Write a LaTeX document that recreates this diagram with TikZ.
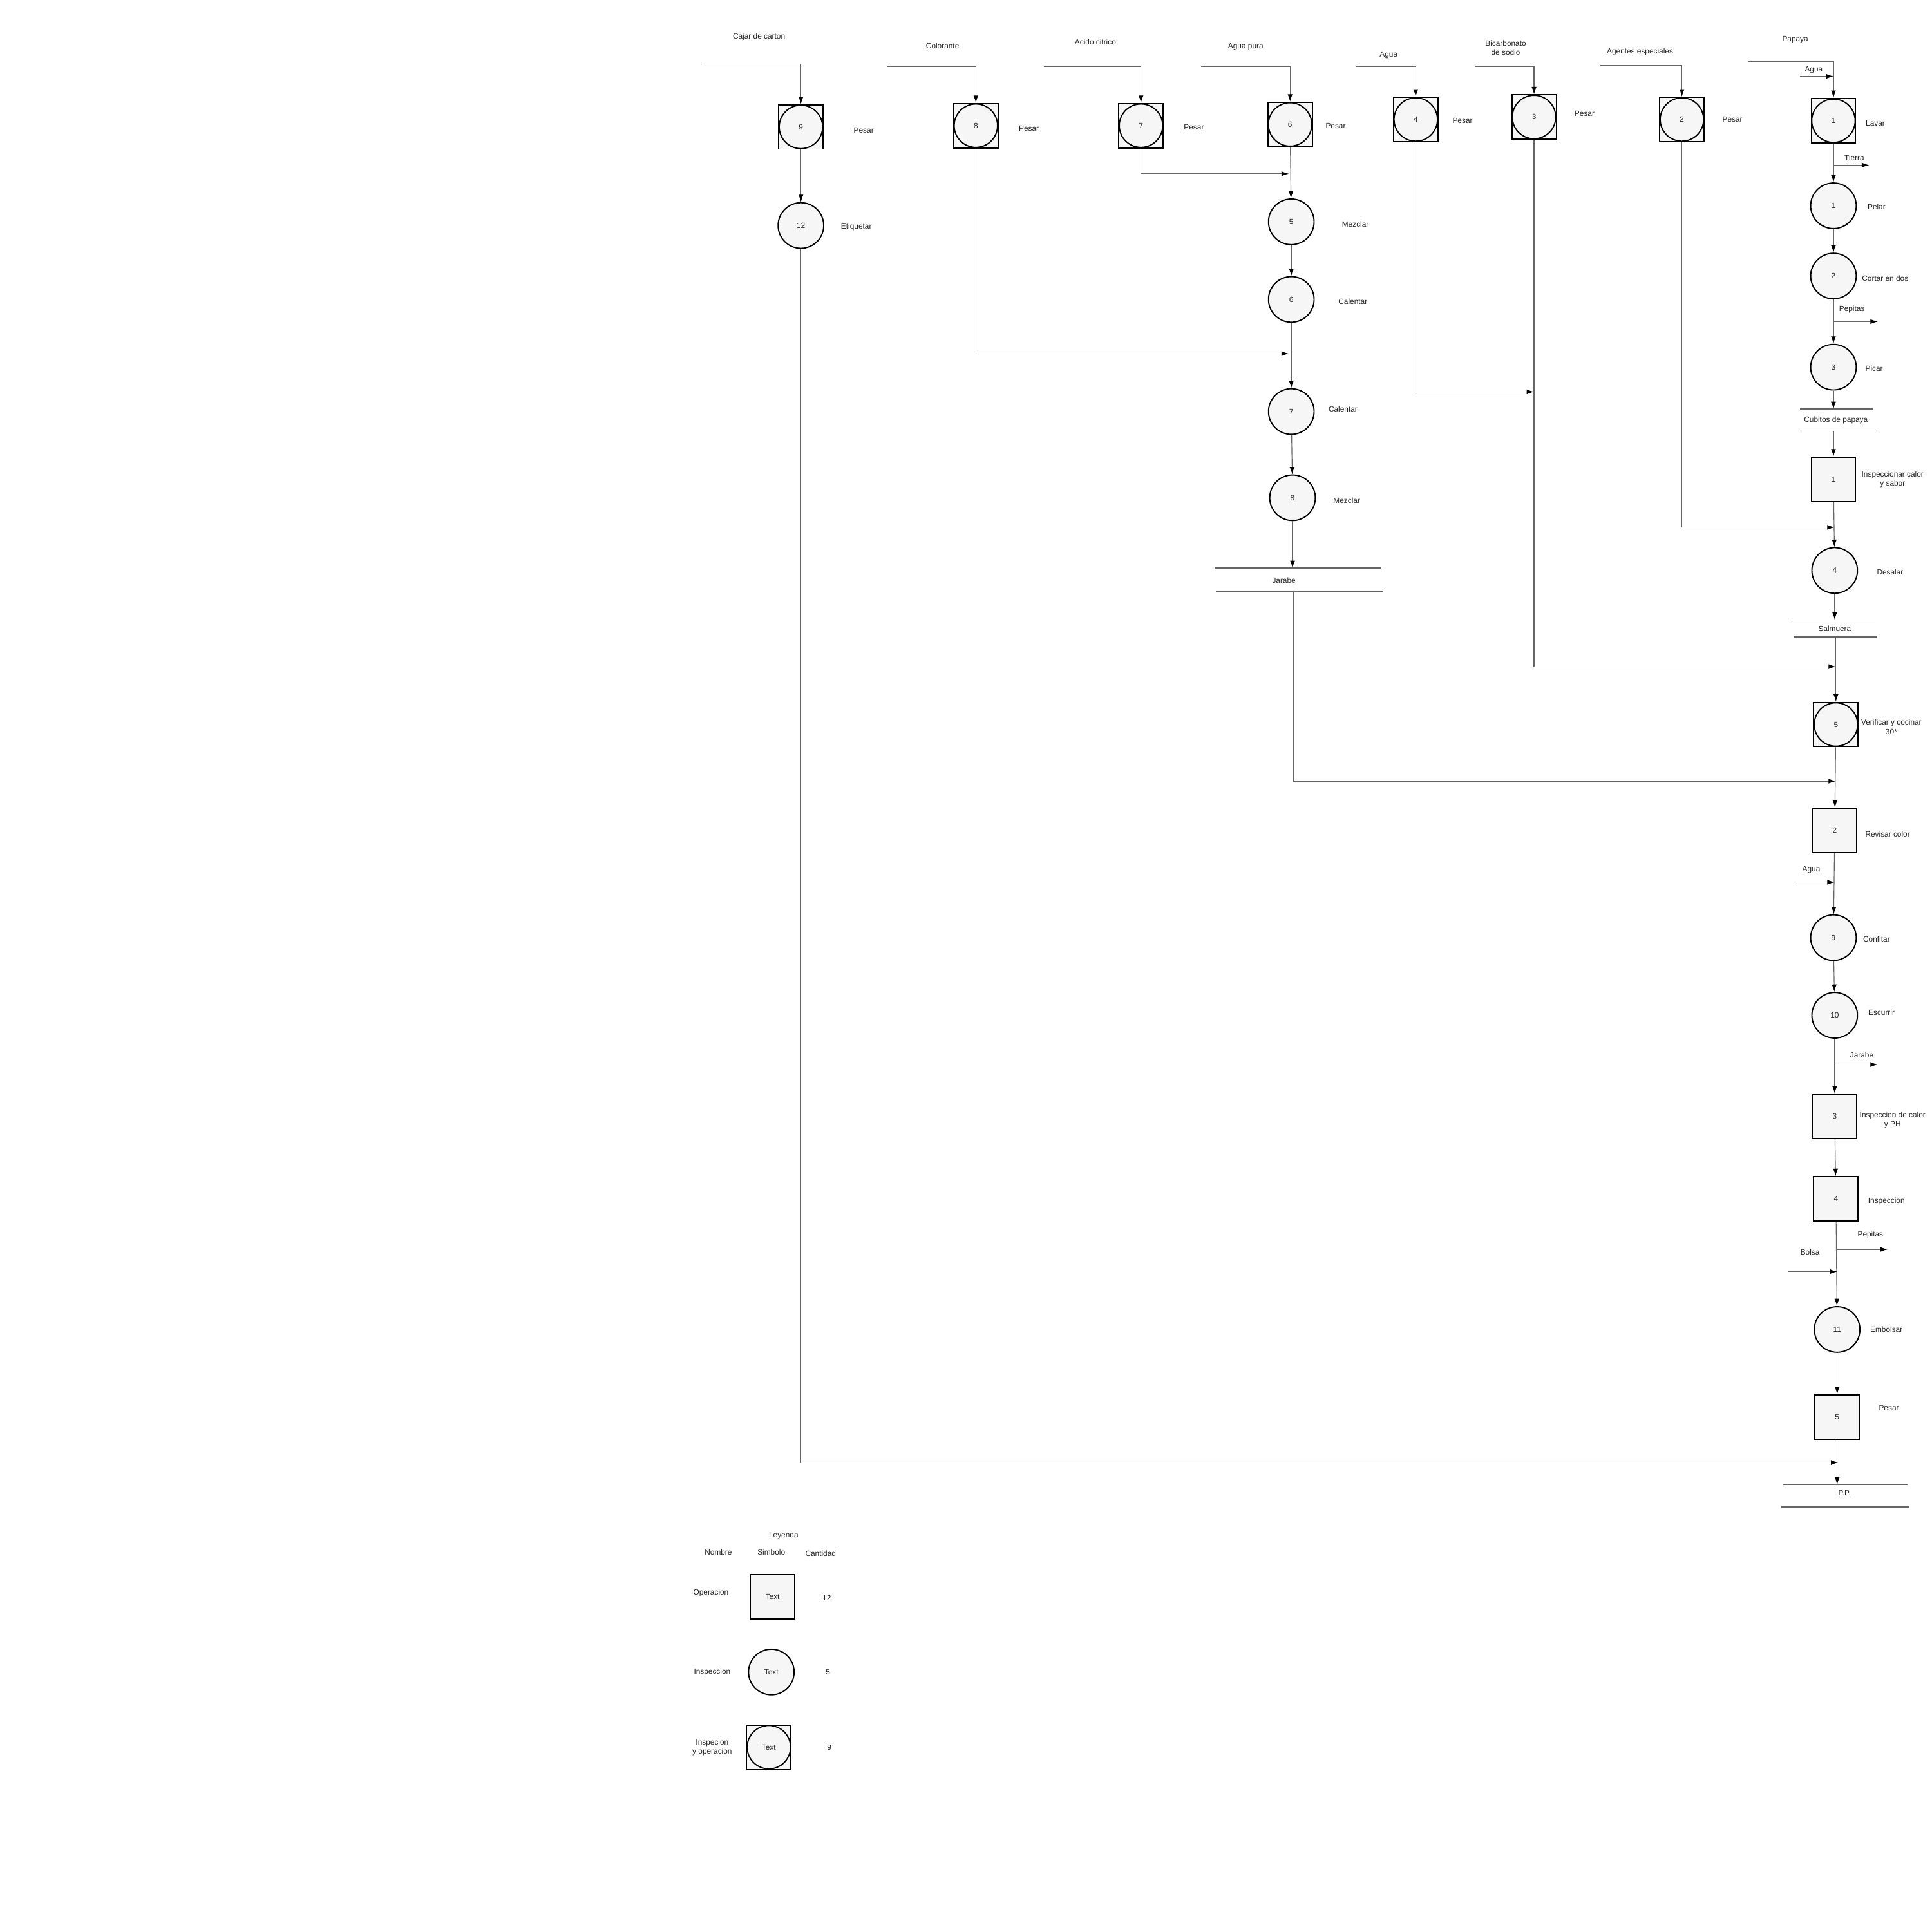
\documentclass[tikz,border=0pt]{standalone}
\usepackage{fontspec}
\setmainfont{Liberation Sans}
\usetikzlibrary{arrows.meta}
\begin{document}
\begin{tikzpicture}[x=1pt,y=-1pt,font=\fontsize{6.2}{7.4}\selectfont,
  conn/.style={draw=black!60, line width=0.6pt},
  arr/.style={conn, -{Latex[length=6pt,width=4pt,color=black]}},
  opnode/.style={circle, draw=black, line width=1pt, fill=gray!7, minimum size=37pt, inner sep=0pt, text=black!85},
  sqnode/.style={rectangle, draw=black, line width=1pt, fill=gray!7, minimum size=36pt, inner sep=0pt, text=black!85},
  cbnode/.style={sqnode, path picture={\draw[line width=1pt] (path picture bounding box.center) circle (17.6pt);}},
  lbl/.style={inner sep=0pt, text=black!85, align=center},
  stor/.style={draw=black!60, line width=0.8pt}]
\useasboundingbox (0,0) rectangle (1568,1568);
\fill[white] (0,0) rectangle (1568,1568);

% ---------- nodes: combined operations ----------
\node[cbnode] (c9) at (650,103) {9};
\node[cbnode] (c8) at (792,102) {8};
\node[cbnode] (c7) at (926,102) {7};
\node[cbnode] (c6) at (1047,101) {6};
\node[cbnode] (c4) at (1149,97) {4};
\node[cbnode] (c3) at (1245,95) {3};
\node[cbnode] (c2) at (1365,97) {2};
\node[cbnode] (c1) at (1488,98) {1};
\node[cbnode] (c5) at (1490,588) {5};

% ---------- operations (circles) ----------
\node[opnode] (o12) at (650,183) {12};
\node[opnode] (o5) at (1048,180) {5};
\node[opnode] (o6) at (1048,243) {6};
\node[opnode] (o7) at (1048,334) {7};
\node[opnode] (o8) at (1049,404) {8};
\node[opnode] (o1) at (1488,167) {1};
\node[opnode] (o2) at (1488,224) {2};
\node[opnode] (o3) at (1488,298) {3};
\node[opnode] (o4) at (1489,463) {4};
\node[opnode] (o9) at (1488,761) {9};
\node[opnode] (o10) at (1489,824) {10};
\node[opnode] (o11) at (1491,1079) {11};

% ---------- inspections (squares) ----------
\node[sqnode] (s1) at (1488,389) {1};
\node[sqnode] (s2) at (1489,674) {2};
\node[sqnode] (s3) at (1489,906) {3};
\node[sqnode] (s4) at (1490,973) {4};
\node[sqnode] (s5) at (1491,1150) {5};

% ---------- storages ----------
\node[lbl] (jar) at (1042,471) {Jarabe};
\draw[stor] (986,461) -- (1121,461);
\draw[stor] (987,480) -- (1122,480);
\node[lbl] (cub) at (1490,341) {Cubitos de papaya};
\draw[stor] (1461,332) -- (1520,332);
\draw[stor] (1462,350) -- (1523,350);
\node[lbl] (sal) at (1489,510) {Salmuera};
\draw[stor] (1454,503) -- (1522,503);
\draw[stor] (1456,517) -- (1523,517);
\node[lbl] (pp) at (1497,1212) {P.P.};
\draw[stor] (1447,1205) -- (1548,1205);
\draw[stor] (1445,1223) -- (1549,1223);

% ---------- labels ----------
\node[lbl] (t1) at (616,30) {Cajar de carton};
\node[lbl] (t2) at (765,37) {Colorante};
\node[lbl] (t3) at (889,34) {Acido citrico};
\node[lbl] (t4) at (1011,38) {Agua pura};
\node[lbl] (t5) at (1127,45) {Agua};
\node[lbl] (t6) at (1222,39) {Bicarbonato\\de sodio};
\node[lbl] (t7) at (1331,42) {Agentes especiales};
\node[lbl] (t8) at (1457,32) {Papaya};
\node[lbl] (t9) at (1472,57) {Agua};

\node[lbl] (p9) at (701,106) {Pesar};
\node[lbl] (p8) at (835,104) {Pesar};
\node[lbl] (p7) at (969,103) {Pesar};
\node[lbl] (p6) at (1084,102) {Pesar};
\node[lbl] (p4) at (1187,98) {Pesar};
\node[lbl] (p3) at (1286,92) {Pesar};
\node[lbl] (p2) at (1406,97) {Pesar};
\node[lbl] (p1) at (1522,100) {Lavar};
\node[lbl] (e12) at (695,184) {Etiquetar};
\node[lbl] (m5) at (1100,182) {Mezclar};
\node[lbl] (m6) at (1098,245) {Calentar};
\node[lbl] (m7) at (1090,332) {Calentar};
\node[lbl] (m8) at (1093,406) {Mezclar};

\node[lbl] (tie) at (1505,128) {Tierra};
\node[lbl] (pel) at (1523,168) {Pelar};
\node[lbl] (cor) at (1530,226) {Cortar en dos};
\node[lbl] (pep1) at (1503,251) {Pepitas};
\node[lbl] (pic) at (1521,299) {Picar};
\node[lbl] (ins1) at (1536,389) {Inspeccionar calor\\y sabor};
\node[lbl] (des) at (1534,464) {Desalar};
\node[lbl] (ver) at (1535,590) {Verificar y cocinar\\30*};
\node[lbl] (rev) at (1532,677) {Revisar color};
\node[lbl] (agu2) at (1470,706) {Agua};
\node[lbl] (con) at (1523,762) {Confitar};
\node[lbl] (esc) at (1527,822) {Escurrir};
\node[lbl] (jar2) at (1511,856) {Jarabe};
\node[lbl] (ins3) at (1536,909) {Inspeccion de calor\\y PH};
\node[lbl] (ins4) at (1531,975) {Inspeccion};
\node[lbl] (pep2) at (1518,1002) {Pepitas};
\node[lbl] (bol) at (1469,1016) {Bolsa};
\node[lbl] (emb) at (1531,1079) {Embolsar};
\node[lbl] (pes5) at (1533,1143) {Pesar};

% ---------- coordinates ----------
\coordinate (a9) at (570,52);
\coordinate (a8) at (720,54);
\coordinate (a7) at (847,54);
\coordinate (a6) at (975,54);
\coordinate (a4) at (1100,54);
\coordinate (a3) at (1197,54);
\coordinate (a2) at (1299,53);
\coordinate (a1) at (1419,50);
\coordinate (aguaS) at (1461,62);
\coordinate (aguaE) at (1488,62);
\coordinate (tieS) at (1488,134);
\coordinate (tieE) at (1517,134);
\coordinate (pepS) at (1488,261);
\coordinate (pepE) at (1524,261);
\coordinate (cubT) at (1488,332);
\coordinate (cubB) at (1488,350);
\coordinate (salT) at (1489,503);
\coordinate (salB) at (1490,517);
\coordinate (jarT) at (1049,461);
\coordinate (jarB) at (1050,480);
\coordinate (j7) at (1046,141);
\coordinate (j8) at (1046,287);
\coordinate (j4) at (1245,318);
\coordinate (j2) at (1489,428);
\coordinate (j3) at (1490,541);
\coordinate (jj) at (1490,634);
\coordinate (ag2S) at (1457,716);
\coordinate (ag2E) at (1489,716);
\coordinate (jaS) at (1489,864);
\coordinate (jaE) at (1524,864);
\coordinate (pe2S) at (1491,1014);
\coordinate (pe2E) at (1532,1014);
\coordinate (boS) at (1451,1032);
\coordinate (boE) at (1491,1032);
\coordinate (jb) at (1492,1187);
\coordinate (ppT) at (1491,1205);

% ---------- connectors ----------
\draw[arr] (a9) -| (c9);
\draw[arr] (a8) -| (c8);
\draw[arr] (a7) -| (c7);
\draw[arr] (a6) -| (c6);
\draw[arr] (a4) -| (c4);
\draw[arr] (a3) -| (c3);
\draw[arr] (a2) -| (c2);
\draw[arr] (a1) -| (c1);
\draw[arr] (aguaS) -- (aguaE);

\draw[arr] (c9) -- (o12);
\draw[arr] (o12) |- (jb);
\draw[arr] (c8) |- (j8);
\draw[arr] (c7) |- (j7);
\draw[arr] (c6) -- (o5);
\draw[arr] (o5) -- (o6);
\draw[arr] (o6) -- (o7);
\draw[arr] (o7) -- (o8);
\draw[arr] (o8) -- (jarT);
\draw[arr] (jarB) |- (jj);
\draw[arr] (c4) |- (j4);
\draw[arr] (c3) |- (j3);
\draw[arr] (c2) |- (j2);

\draw[arr] (c1) -- (o1);
\draw[arr] (tieS) -- (tieE);
\draw[arr] (o1) -- (o2);
\draw[arr] (o2) -- (o3);
\draw[arr] (pepS) -- (pepE);
\draw[arr] (o3) -- (cubT);
\draw[arr] (cubB) -- (s1);
\draw[arr] (s1) -- (o4);
\draw[arr] (o4) -- (salT);
\draw[arr] (salB) -- (c5);
\draw[arr] (c5) -- (s2);
\draw[arr] (s2) -- (o9);
\draw[arr] (ag2S) -- (ag2E);
\draw[arr] (o9) -- (o10);
\draw[arr] (o10) -- (s3);
\draw[arr] (jaS) -- (jaE);
\draw[arr] (s3) -- (s4);
\draw[arr] (s4) -- (o11);
\draw[arr] (pe2S) -- (pe2E);
\draw[arr] (boS) -- (boE);
\draw[arr] (o11) -- (s5);
\draw[arr] (s5) -- (ppT);

% ---------- legend ----------
\node[lbl] (ley) at (636,1246) {Leyenda};
\node[lbl] (hn) at (583,1260) {Nombre};
\node[lbl] (hs) at (626,1260) {Simbolo};
\node[lbl] (hc) at (666,1261) {Cantidad};
\node[lbl] (ln1) at (577,1293) {Operacion};
\node[sqnode] (ls1) at (627,1296) {Text};
\node[lbl] (lq1) at (671,1297) {12};
\node[lbl] (ln2) at (578,1357) {Inspeccion};
\node[opnode] (ls2) at (626,1357) {Text};
\node[lbl] (lq2) at (672,1357) {5};
\node[lbl] (ln3) at (578,1418) {Inspecion\\y operacion};
\node[cbnode] (ls3) at (624,1418) {Text};
\node[lbl] (lq3) at (673,1418) {9};
\end{tikzpicture}
\end{document}
